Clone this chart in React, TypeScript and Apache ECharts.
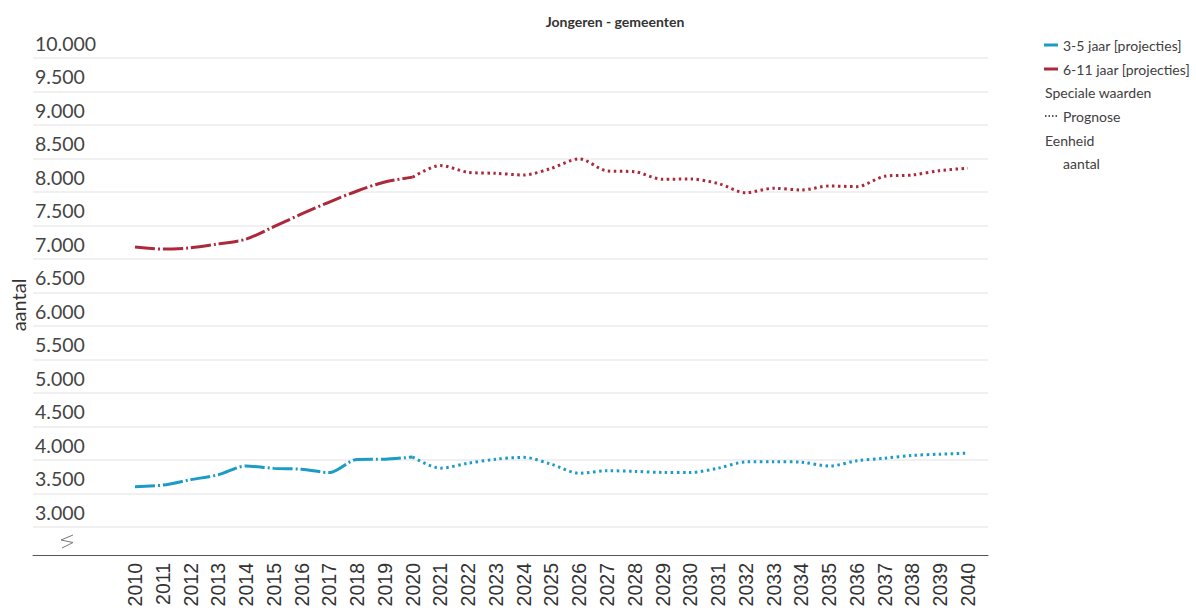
import React, { useEffect, useRef } from "react";
import * as echarts from "echarts";

const years = [2010, 2011, 2012, 2013, 2014, 2015, 2016, 2017, 2018, 2019, 2020, 2021, 2022, 2023, 2024, 2025, 2026, 2027, 2028, 2029, 2030, 2031, 2032, 2033, 2034, 2035, 2036, 2037, 2038, 2039, 2040];
const jaar3tot5 = [3600, 3625, 3705, 3780, 3910, 3875, 3862, 3812, 4008, 4012, 4045, 3878, 3952, 4012, 4040, 3935, 3803, 3840, 3830, 3815, 3815, 3878, 3972, 3975, 3967, 3910, 3988, 4027, 4068, 4087, 4102];
const jaar6tot11 = [7180, 7148, 7167, 7225, 7297, 7482, 7672, 7850, 8015, 8150, 8222, 8395, 8294, 8279, 8254, 8354, 8495, 8315, 8302, 8190, 8194, 8127, 7990, 8056, 8030, 8090, 8080, 8235, 8254, 8320, 8356];
const lastObserved = 2020;
const yTicks = { min: 3000, max: 10000, interval: 500 };

const BLUE = "#1a9bc8";
const RED = "#ad283b";
const TEXT = "#404040";
const FONT = "Lato, 'Noto Sans', sans-serif";

function fmt(v: number) {
  return String(v).replace(/\B(?=(\d{3})+(?!\d))/g, ".");
}

export default function App() {
  const ref = useRef<HTMLDivElement>(null);
  useEffect(() => {
    document.body.style.margin = "0";
    if (!ref.current) return;
    const chart = echarts.init(ref.current, null, { renderer: "svg" });
    const split = years.indexOf(lastObserved);
    const pairs = (vals: number[], from: number, to: number) =>
      years.slice(from, to + 1).map((y, i) => [y, vals[from + i]]);

    const histStyle = (c: string) => ({ color: c, width: 3, type: [20, 3, 2, 3] as any, cap: "butt" as const });
    const progStyle = (c: string) => ({ color: c, width: 3, type: [2.5, 3.5] as any, cap: "butt" as const });

    const lf = `14px ${FONT}`;
    const ly = [45, 69, 92, 116, 140, 163];
    const legendItems: any[] = [
      { type: "line", shape: { x1: 1044, y1: ly[0], x2: 1058, y2: ly[0] }, style: { stroke: BLUE, lineWidth: 3 } },
      { type: "text", x: 1063, y: ly[0], style: { text: "3-5 jaar [projecties]", fill: TEXT, font: lf, verticalAlign: "middle" } },
      { type: "line", shape: { x1: 1044, y1: ly[1], x2: 1058, y2: ly[1] }, style: { stroke: RED, lineWidth: 3 } },
      { type: "text", x: 1063, y: ly[1], style: { text: "6-11 jaar [projecties]", fill: TEXT, font: lf, verticalAlign: "middle" } },
      { type: "text", x: 1045, y: ly[2], style: { text: "Speciale waarden", fill: TEXT, font: lf, verticalAlign: "middle" } },
      { type: "line", shape: { x1: 1045, y1: ly[3], x2: 1057, y2: ly[3] }, style: { stroke: "#555", lineWidth: 2, lineDash: [1.5, 2] } },
      { type: "text", x: 1063, y: ly[3], style: { text: "Prognose", fill: TEXT, font: lf, verticalAlign: "middle" } },
      { type: "text", x: 1045, y: ly[4], style: { text: "Eenheid", fill: TEXT, font: lf, verticalAlign: "middle" } },
      { type: "text", x: 1063, y: ly[5], style: { text: "aantal", fill: TEXT, font: lf, verticalAlign: "middle" } },
      { type: "text", x: 18, y: 305, rotation: Math.PI / 2, style: { text: "aantal", fill: "#333", font: `20px ${FONT}`, align: "center", verticalAlign: "middle" } },
      { type: "polyline", shape: { points: [[73, 535], [61, 540], [73, 542.5], [62, 548]] }, style: { stroke: "#777", lineWidth: 1, fill: "none" } },
    ];

    chart.setOption({
      animation: false,
      title: {
        text: "Jongeren - gemeenten",
        left: 610,
        top: 9,
        textAlign: "center",
        textStyle: { fontFamily: FONT, fontSize: 14, fontWeight: "bold", color: "#333" },
      },
      grid: { left: 33, right: 208, top: 58, bottom: 85, containLabel: false },
      xAxis: {
        type: "value",
        min: 2006.327,
        max: 2040.72,
        offset: 28,
        axisLine: { show: true, lineStyle: { color: "#555", width: 1 } },
        axisTick: { show: false },
        splitLine: { show: false },
        axisLabel: {
          customValues: years,
          rotate: 90,
          margin: 8,
          fontSize: 19.5,
          color: "#333",
          fontFamily: "'Liberation Sans', Arial, sans-serif",
          formatter: (v: number) => String(Math.round(v)),
        },
      },
      yAxis: {
        type: "value",
        min: yTicks.min,
        max: yTicks.max,
        interval: yTicks.interval,
        axisLine: { show: false },
        axisTick: { show: false },
        splitLine: { show: true, lineStyle: { color: "#ebebeb", width: 1.5 } },
        axisLabel: {
          align: "left",
          verticalAlign: "bottom",
          margin: -2,
          padding: [0, 0, 5, 0],
          fontSize: 19.5,
          color: "#444",
          fontFamily: FONT,
          formatter: (v: number) => fmt(v),
        },
      },
      graphic: legendItems,
      series: [
        { name: "3-5 jaar [projecties]", type: "line", data: pairs(jaar3tot5, 0, split), smooth: 0.3, symbol: "none", lineStyle: histStyle(BLUE) },
        { name: "3-5 jaar prognose", type: "line", data: pairs(jaar3tot5, split, years.length - 1), smooth: 0.3, symbol: "none", lineStyle: progStyle(BLUE) },
        { name: "6-11 jaar [projecties]", type: "line", data: pairs(jaar6tot11, 0, split), smooth: 0.3, symbol: "none", lineStyle: histStyle(RED) },
        { name: "6-11 jaar prognose", type: "line", data: pairs(jaar6tot11, split, years.length - 1), smooth: 0.3, symbol: "none", lineStyle: progStyle(RED) },
      ],
    });
    return () => chart.dispose();
  }, []);
  return <div ref={ref} style={{ width: 1196, height: 612 }} />;
}
